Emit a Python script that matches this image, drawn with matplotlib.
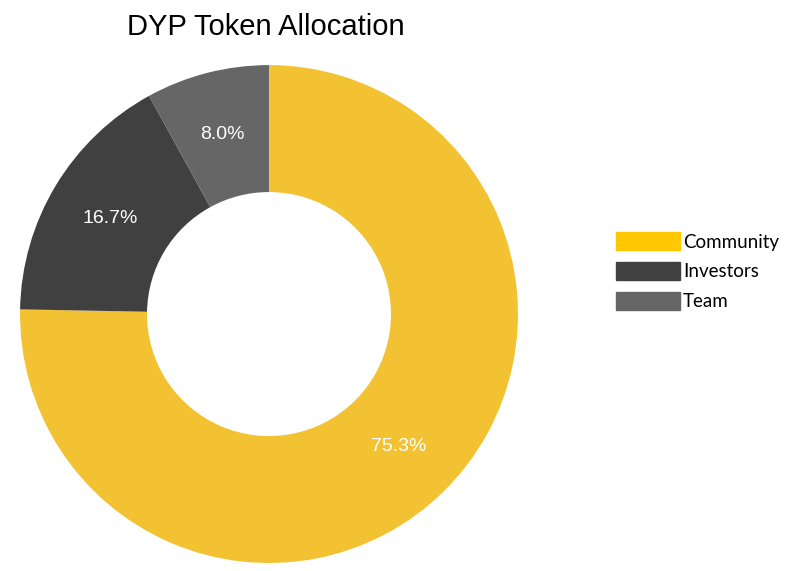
import matplotlib
matplotlib.use("Agg")
import matplotlib.pyplot as plt
from matplotlib.patches import Patch

labels = ["Community", "Investors", "Team"]
values = [75.3, 16.7, 8.0]
colors = ["#F2C232", "#404040", "#666666"]
legend_colors = ["#FFC800", "#404040", "#666666"]

fig = plt.figure(figsize=(7.97, 5.71), dpi=100)
ax = fig.add_axes([0.025, 0.014, 0.625, 0.872])
wedges, texts, autotexts = ax.pie(values, colors=colors, startangle=90, counterclock=False,
       autopct="%.1f%%", pctdistance=0.745, radius=1.0,
       wedgeprops=dict(width=0.51, edgecolor="none"),
       textprops=dict(color="white", fontsize=14, family="Liberation Sans"))
ax.set_aspect("equal")
ax.set_xlim(-1, 1); ax.set_ylim(-1, 1)
fig.text(0.333, 0.953, "DYP Token Allocation", ha="center", va="center",
         fontsize=21, family="Liberation Sans")
handles = [Patch(color=c, label=l) for c, l in zip(legend_colors, labels)]
fig.legend(handles=handles, loc="center left", bbox_to_anchor=(0.752, 0.525),
           frameon=False, handlelength=3.4, handleheight=1.1, handletextpad=0.15,
           labelspacing=0.6, prop=dict(family="Lato", size=13.5))
fig.savefig("out.png", dpi=100)
